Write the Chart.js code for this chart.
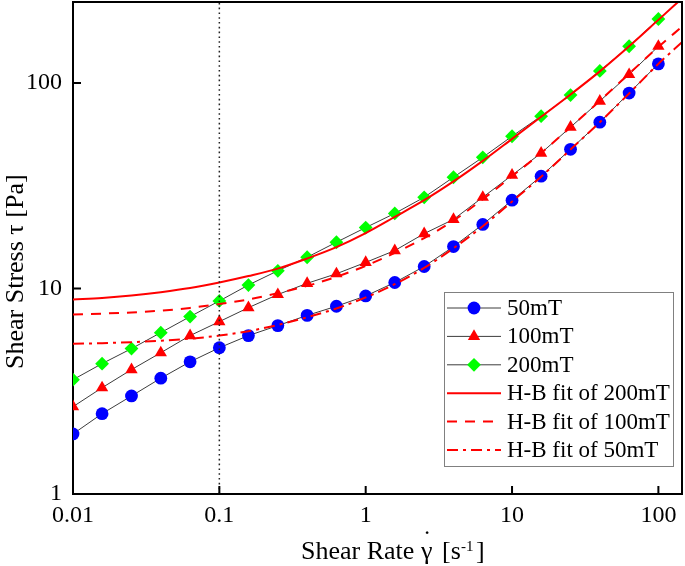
<!DOCTYPE html>
<html><head><meta charset="utf-8">
<script src="https://cdn.jsdelivr.net/npm/chart.js@4/dist/chart.umd.min.js"></script>
<style>html,body{margin:0;padding:0;background:#fff}#wrap{width:685px;height:566px}</style>
</head><body><div id="wrap"><canvas id="c" width="685" height="566"></canvas></div>
<script>
// ---- data ----
const shearRate = [0.01, 0.0158, 0.0251, 0.0398, 0.0631, 0.1, 0.158, 0.251, 0.398, 0.631, 1, 1.58, 2.51, 3.98, 6.31, 10, 15.8, 25.1, 39.8, 63.1, 100];
const stress50mT  = [1.96, 2.46, 3.0, 3.66, 4.4, 5.15, 5.9, 6.6, 7.4, 8.2, 9.2, 10.7, 12.8, 16.0, 20.5, 26.9, 35.2, 47.6, 64.5, 89.4, 124];
const stress100mT = [2.66, 3.29, 4.03, 4.87, 5.9, 6.9, 8.07, 9.35, 10.6, 11.8, 13.4, 15.3, 18.5, 21.7, 27.8, 35.6, 45.6, 61, 81.7, 110, 151];
const stress200mT = [3.6, 4.31, 5.1, 6.1, 7.3, 8.7, 10.4, 12.2, 14.2, 16.8, 19.8, 23.2, 27.8, 34.8, 43.5, 55.1, 69, 87.4, 114.5, 151, 205];

const fitRate   = [0.01, 0.0158, 0.0251, 0.0398, 0.0631, 0.1, 0.158, 0.251, 0.398, 0.631, 1, 1.58, 2.51, 3.98, 6.31, 10, 15.8, 25.1, 39.8, 63.1, 100, 145];
const fit200mT  = [8.84, 9.0, 9.25, 9.6, 10.05, 10.7, 11.5, 12.5, 14.0, 15.9, 18.6, 22.3, 26.9, 33.2, 41.8, 53.5, 68.5, 88, 114, 151, 203, 258];
const fit100mT  = [7.47, 7.55, 7.65, 7.8, 8.05, 8.4, 8.85, 9.5, 10.3, 11.4, 12.9, 14.9, 17.6, 21.4, 27.2, 35.2, 45.7, 61, 82, 111, 150, 188];
const fit50mT   = [5.38, 5.42, 5.48, 5.57, 5.7, 5.9, 6.2, 6.65, 7.25, 8.0, 9.05, 10.5, 12.6, 15.7, 20.1, 26.5, 35.0, 47.5, 64.5, 89, 124, 158];

const refLineRate = 0.1;
const xTickValues = [0.01, 0.1, 1, 10, 100];
const yTickValues = [1, 10, 100];
const xRange = [0.01, 145];
const yRange = [1, 248];

const seriesLabels = ['50mT', '100mT', '200mT'];
const fitLabels = ['H-B fit of 200mT', 'H-B fit of 100mT', 'H-B fit of 50mT'];

// ---- styling ----
const FONT = '"Liberation Serif", "Times New Roman", Times, serif';
const pts = (xs, ys) => xs.map((x, i) => ({x, y: ys[i]}));

function markerSet(label, ys, color, style, r) {
  return {
    label, data: pts(shearRate, ys), order: 2, clip: 0,
    borderColor: '#3c3c3c', borderWidth: 1, tension: 0,
    pointStyle: style, pointRadius: r, pointBackgroundColor: color,
    pointBorderColor: color, pointBorderWidth: 0, _legendMarker: true
  };
}
function fitSet(label, ys, dash) {
  return {
    label, data: pts(fitRate, ys), order: 1, clip: 0,
    borderColor: '#ff0000', borderWidth: 2, borderDash: dash,
    pointRadius: 0, cubicInterpolationMode: 'monotone'
  };
}

const datasets = [
  markerSet(seriesLabels[0], stress50mT, '#0000ff', 'circle', 6.4),
  markerSet(seriesLabels[1], stress100mT, '#ff0000', 'triangle', 7.1),
  markerSet(seriesLabels[2], stress200mT, '#00ff00', 'rectRot', 6.9),
  fitSet(fitLabels[0], fit200mT, []),
  fitSet(fitLabels[1], fit100mT, [10, 8]),
  fitSet(fitLabels[2], fit50mT, [11, 5, 3, 5]),
  {
    label: 'ref', data: [{x: refLineRate, y: yRange[0]}, {x: refLineRate, y: yRange[1]}],
    order: 0, clip: 0, borderColor: '#222', borderWidth: 1.5, borderDash: [1.6, 3.2],
    pointRadius: 0, _noLegend: true
  }
];

const deco = {
  id: 'deco',
  afterDraw(chart) {
    const ctx = chart.ctx, a = chart.chartArea;
    const xs = chart.scales.x, ys = chart.scales.y;
    ctx.save();
    // frame (top / right)
    ctx.strokeStyle = '#000'; ctx.lineWidth = 2; ctx.setLineDash([]);
    ctx.beginPath();
    ctx.moveTo(a.left - 1, a.top); ctx.lineTo(a.right, a.top); ctx.lineTo(a.right, a.bottom + 1);
    ctx.stroke();
    // inward tick marks
    ctx.beginPath();
    xTickValues.forEach(v => { const p = xs.getPixelForValue(v); ctx.moveTo(p, a.bottom); ctx.lineTo(p, a.bottom - 8); });
    yTickValues.forEach(v => { const p = ys.getPixelForValue(v); ctx.moveTo(a.left, p); ctx.lineTo(a.left + 8, p); });
    ctx.stroke();

    // axis titles
    ctx.fillStyle = '#000';
    ctx.textAlign = 'left'; ctx.textBaseline = 'alphabetic';
    ctx.font = '26px ' + FONT;
    ctx.fillText('Shear Rate', 301, 559);
    ctx.fillText('\u03B3', 421, 559);
    ctx.textAlign = 'center';
    ctx.fillText('\u02D9', 427, 548);
    ctx.textAlign = 'left';
    ctx.fillText('[s', 442, 559);
    ctx.font = '15px ' + FONT;
    ctx.fillText('-1', 461, 551);
    ctx.font = '26px ' + FONT;
    ctx.fillText(']', 476, 559);

    ctx.save();
    ctx.translate(23, 369);
    ctx.rotate(-Math.PI / 2);
    ctx.fillText('Shear Stress \u03C4 [Pa]', 0, 0);
    ctx.restore();

    // legend
    const L = {x: 444, y: 292, w: 229, h: 174};
    ctx.fillStyle = '#fff';
    ctx.fillRect(L.x, L.y, L.w, L.h);
    ctx.strokeStyle = '#808080'; ctx.lineWidth = 1;
    ctx.strokeRect(L.x + 0.5, L.y + 0.5, L.w, L.h);
    const items = chart.data.datasets.filter(d => !d._noLegend);
    items.forEach((d, i) => {
      const cy = 308 + i * 28.4;
      ctx.strokeStyle = d.borderColor; ctx.lineWidth = d.borderWidth;
      ctx.setLineDash(d.borderDash || []);
      ctx.beginPath(); ctx.moveTo(447, cy); ctx.lineTo(501, cy); ctx.stroke();
      ctx.setLineDash([]);
      if (d._legendMarker) {
        ctx.fillStyle = d.pointBackgroundColor;
        const opts = {pointStyle: d.pointStyle, radius: d.pointRadius, rotation: 0, borderWidth: 0};
        if (Chart.helpers && Chart.helpers.drawPoint) {
          Chart.helpers.drawPoint(ctx, opts, 474, cy);
        } else {
          ctx.beginPath(); ctx.arc(474, cy, d.pointRadius, 0, Math.PI * 2); ctx.fill();
        }
      }
      ctx.fillStyle = '#000';
      ctx.font = '23px ' + FONT;
      ctx.textAlign = 'left'; ctx.textBaseline = 'middle';
      ctx.fillText(d.label, 507, cy + 1);
    });
    ctx.restore();
  }
};

new Chart(document.getElementById('c'), {
  type: 'line',
  data: {datasets},
  plugins: [deco],
  options: {
    responsive: false, animation: false, devicePixelRatio: 1, events: [],
    layout: {autoPadding: false, padding: {top: 2, right: 3, left: 0, bottom: 0}},
    plugins: {legend: {display: false}, tooltip: {enabled: false}},
    scales: {
      x: {
        type: 'logarithmic', min: xRange[0], max: xRange[1],
        grid: {display: false, drawTicks: false},
        border: {display: true, color: '#000', width: 2},
        afterBuildTicks: s => { s.ticks = xTickValues.map(v => ({value: v})); },
        afterFit: s => { s.height = 72; s.paddingLeft = 0; s.paddingRight = 0; },
        ticks: {font: {family: FONT, size: 24}, color: '#000', padding: 7, maxRotation: 0, autoSkip: false,
                callback: v => String(v)}
      },
      y: {
        type: 'logarithmic', min: yRange[0], max: yRange[1],
        grid: {display: false, drawTicks: false},
        border: {display: true, color: '#000', width: 2},
        afterBuildTicks: s => { s.ticks = yTickValues.map(v => ({value: v})); },
        afterFit: s => { s.width = 73; s.paddingTop = 0; s.paddingBottom = 0; },
        ticks: {font: {family: FONT, size: 24}, color: '#000', padding: 11, autoSkip: false,
                callback: v => String(v)}
      }
    }
  }
});
</script></body></html>
